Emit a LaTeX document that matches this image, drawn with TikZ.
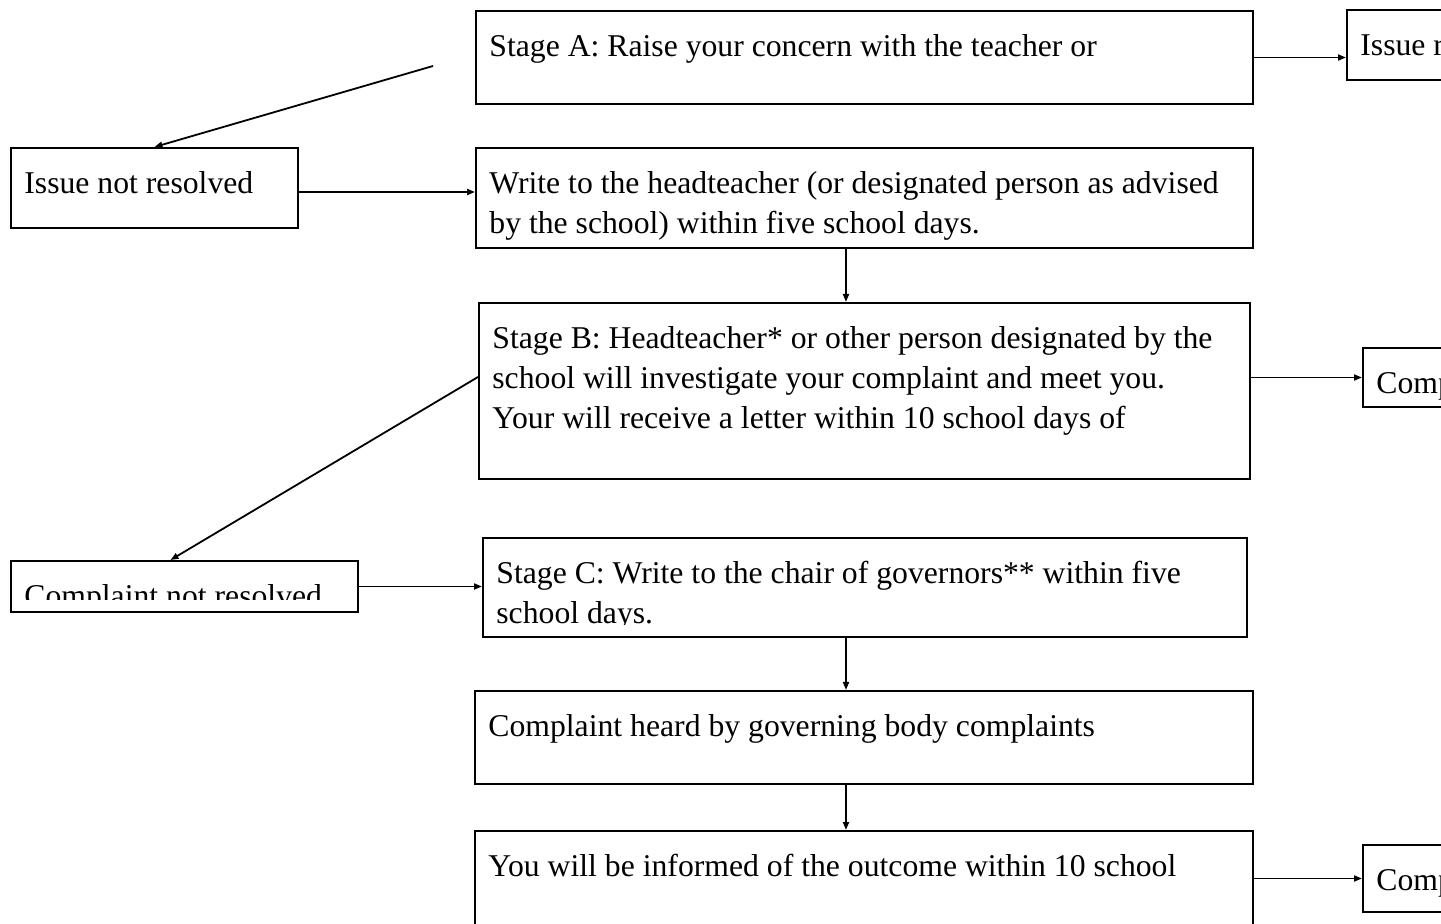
\documentclass[tikz,border=0pt]{standalone}
\usepackage{fontspec}
\setmainfont{Liberation Serif}
\usepackage{tikz}
\usetikzlibrary{calc}
\usetikzlibrary{arrows.meta}
\usetikzlibrary{positioning,fit}
\newcommand{\BoxFont}{\fontsize{15.85}{20}\selectfont}
\newcommand{\BoxLabel}[3][0]{%
  \begin{scope}
    \clip (#2.north west) rectangle ($(#2.south east)+(0,-#1)$);
    \node[BoxText] (#2-txt) at ($(#2.north west)+(14,18)$) {\strut #3};
  \end{scope}}

\begin{document}
\begin{tikzpicture}[
x=0.5pt, y=-0.5pt,
Box/.style={draw=black,line width=1pt,inner sep=0pt},
BoxText/.style={anchor=north west,inner sep=0pt,align=left,font=\BoxFont},
Arrow/.style={-{Triangle[length=4pt,width=3pt]},line width=0.9pt}
]
\useasboundingbox (0,0) rectangle (1441,924);
\clip (0,0) rectangle (1441,924);

\node[Box, fit={(476,11) (1253,104)}] (stageA) {};
\node[Box, fit={(1347,10) (1470,80)}] (issueR) {};
\node[Box, fit={(11,148) (298,228)}] (notRes) {};
\node[Box, fit={(476,148) (1253,248)}] (write) {};
\node[Box, fit={(479,303) (1250,479)}] (stageB) {};
\node[Box, fit={(1363,348) (1470,407)}] (compB) {};
\node[Box, fit={(11,561) (358,612)}] (compNot) {};
\node[Box, fit={(483,538) (1247,637)}] (stageC) {};
\node[Box, fit={(475,691) (1253,784)}] (heard) {};
\node[Box, fit={(475,831) (1253,950)}] (outcome) {};
\node[Box, fit={(1363,845) (1470,912)}] (compOut) {};

\BoxLabel{stageA}{Stage A: Raise your concern with the teacher or}
\BoxLabel{issueR}{Issue r}
\BoxLabel{notRes}{Issue not resolved}
\BoxLabel{write}{Write to the headteacher (or designated person as advised\\by the school) within five school days.}
\BoxLabel{stageB}{Stage B: Headteacher* or other person designated by the\\school will investigate your complaint and meet you.\\Your will receive a letter within 10 school days of}
\BoxLabel{compB}{Comp}
\BoxLabel[13]{compNot}{Complaint not resolved}
\BoxLabel[13]{stageC}{Stage C: Write to the chair of governors** within five\\school days.}
\BoxLabel{heard}{Complaint heard by governing body complaints}
\BoxLabel{outcome}{You will be informed of the outcome within 10 school}
\BoxLabel{compOut}{Comp}

\coordinate (spine) at (846,0);
\coordinate (loose) at (433,66);

\draw[Arrow] (stageA.east) -- (stageA.east -| issueR.west);
\draw[Arrow] (loose) -- (notRes.north);
\draw[Arrow] ($(notRes.east)+(0,4)$) -- ($(notRes.east -| write.west)+(0,4)$);
\draw[Arrow] (spine |- write.south) -- (spine |- stageB.north);
\draw[Arrow] (compB.west -| stageB.east) -- (compB.west);
\draw[Arrow] ($(stageB.west)+(0,-14)$) -- ($(compNot.north)+(-14,0)$);
\draw[Arrow] (compNot.east) -- (compNot.east -| stageC.west);
\draw[Arrow] (spine |- stageC.south) -- (spine |- heard.north);
\draw[Arrow] (spine |- heard.south) -- (spine |- outcome.north);
\draw[Arrow] (compOut.west -| outcome.east) -- (compOut.west);

\end{tikzpicture}
\end{document}
